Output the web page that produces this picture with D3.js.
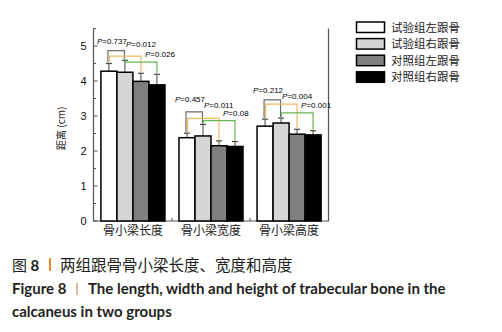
<!DOCTYPE html>
<html><head><meta charset="utf-8">
<script src="https://cdn.jsdelivr.net/npm/d3@7"></script>
<style>body{margin:0;background:#fff}svg{display:block}</style>
</head><body>
<script>
// ---- data ----
const categories = ["骨小梁长度", "骨小梁宽度", "骨小梁高度"];
const seriesNames = ["试验组左跟骨", "试验组右跟骨", "对照组左跟骨", "对照组右跟骨"];
const expLeft  = [4.28, 2.38, 2.71];
const expRight = [4.25, 2.43, 2.80];
const ctlLeft  = [3.99, 2.15, 2.48];
const ctlRight = [3.89, 2.13, 2.46];
const sdExpLeft  = [0.22, 0.13, 0.20];
const sdExpRight = [0.34, 0.33, 0.14];
const sdCtlLeft  = [0.23, 0.14, 0.14];
const sdCtlRight = [0.30, 0.14, 0.12];
const yTicks = [0, 1, 2, 3, 4, 5];
const pairs = [[0, 1], [0, 2], [1, 3]];
const pValues = [["0.737", "0.012", "0.026"], ["0.457", "0.011", "0.08"], ["0.212", "0.004", "0.001"]];
const bracketLevels = [[4.87, 4.71, 4.54], [3.12, 2.93, 2.87], [3.46, 3.34, 3.09]];
const labelLevels = [[5.06, 4.96, 4.70], [3.39, 3.23, 3.00], [3.66, 3.49, 3.23]];
const captionCN = ["图 ", "8", "两组跟骨骨小梁长度、宽度和高度"];
const captionEN = ["Figure 8", "The length, width and height of trabecular bone in the", "calcaneus in two groups"];

// ---- style ----
const fills = ["#ffffff", "#d6d6d6", "#7f7f7f", "#000000"];
const bracketColors = ["#6e6e6e", "#f2b866", "#6bb552"];
const values = [expLeft, expRight, ctlLeft, ctlRight];
const sds = [sdExpLeft, sdExpRight, sdCtlLeft, sdCtlRight];

const svg = d3.select("body").append("svg").attr("width", 502).attr("height", 332);
const numFont = "'Liberation Sans', Arial, sans-serif";
const cjkFont = "'Noto Sans CJK SC', sans-serif";

const x0 = d3.scaleBand().domain(categories).range([93.5, 328.5]).paddingInner(0.18).paddingOuter(0.095);
const x1 = d3.scaleBand().domain(d3.range(4)).range([0, x0.bandwidth()]);
const y = d3.scaleLinear().domain([0, 5.5]).range([221, 28.5]);
const axisColor = "#555";

// frame
const [xl, xr] = x0.range();
svg.append("path").attr("d", `M${xl},${y(5.5)}V${y(0)}H${xr}V${y(5.5)}`)
  .attr("fill", "none").attr("stroke", axisColor).attr("stroke-width", 1.2);

// y axis ticks
const yAxis = d3.axisLeft(y).tickValues(yTicks).tickSize(0).tickPadding(7).tickFormat(d3.format("d"));
const ga = svg.append("g").attr("transform", `translate(${xl},0)`).call(yAxis);
ga.select(".domain").remove();
ga.selectAll("text").attr("font-family", numFont).attr("font-size", 11).attr("fill", "#111");
// inward ticks
const minor = d3.range(0, 5.51, 0.5);
svg.append("g").selectAll("line").data(minor).join("line")
  .attr("x1", xl).attr("x2", d => xl + (Number.isInteger(d) ? 4 : 2.5))
  .attr("y1", d => y(d)).attr("y2", d => y(d))
  .attr("stroke", axisColor).attr("stroke-width", 1);
// bottom ticks between groups
svg.append("g").selectAll("line").data(categories.slice(1)).join("line")
  .attr("x1", d => x0(d) - x0.step() * x0.paddingInner() / 2)
  .attr("x2", d => x0(d) - x0.step() * x0.paddingInner() / 2)
  .attr("y1", y(0)).attr("y2", y(0) - 3)
  .attr("stroke", axisColor);

// y title
svg.append("text").attr("transform", `translate(65,${y(2.65)}) rotate(-90)`)
  .attr("text-anchor", "middle").attr("font-family", cjkFont).attr("font-size", 10).attr("fill", "#222")
  .text("距离 (cm)");

// bars
categories.forEach((c, gi) => {
  const g = svg.append("g").attr("transform", `translate(${x0(c)},0)`);
  g.selectAll("line.err").data(d3.range(4)).join("line").attr("class", "err")
    .attr("x1", i => x1(i) + x1.bandwidth() / 2).attr("x2", i => x1(i) + x1.bandwidth() / 2)
    .attr("y1", i => y(values[i][gi])).attr("y2", i => y(values[i][gi] + sds[i][gi]))
    .attr("stroke", "#444").attr("stroke-width", 1);
  g.selectAll("line.cap").data(d3.range(4)).join("line").attr("class", "cap")
    .attr("x1", i => x1(i) + x1.bandwidth() / 2 - 3).attr("x2", i => x1(i) + x1.bandwidth() / 2 + 3)
    .attr("y1", i => y(values[i][gi] + sds[i][gi])).attr("y2", i => y(values[i][gi] + sds[i][gi]))
    .attr("stroke", "#444").attr("stroke-width", 1.2);
  g.selectAll("rect").data(d3.range(4)).join("rect")
    .attr("x", i => x1(i)).attr("width", x1.bandwidth())
    .attr("y", i => y(values[i][gi])).attr("height", i => y(0) - y(values[i][gi]))
    .attr("fill", i => fills[i]).attr("stroke", "#000").attr("stroke-width", 1.5);
  // brackets
  pairs.forEach((p, k) => {
    const xa = x0(c) + x1(p[0]) + x1.bandwidth() / 2 + (k === 0 ? -1 : 0.5);
    const xb = x0(c) + x1(p[1]) + x1.bandwidth() / 2 + (k === 0 ? -0.5 : 0);
    const top = y(bracketLevels[gi][k]);
    const ea = y(values[p[0]][gi] + sds[p[0]][gi]) - 1;
    const eb = y(values[p[1]][gi] + sds[p[1]][gi]) - 1;
    svg.append("path").attr("d", `M${xa},${ea}V${top}H${xb}V${eb}`)
      .attr("fill", "none").attr("stroke", bracketColors[k]).attr("stroke-width", 1.2);
  });
  // p labels
  const gx = x0(c);
  const rightGrey = gx + x1(1) + x1.bandwidth() / 2;
  const lbl = [
    {x: rightGrey + 2, anchor: "end"},
    {x: rightGrey + 1, anchor: "start"},
    {x: gx + x1(2) + x1.bandwidth() / 2 + 4, anchor: "start"}
  ];
  lbl.forEach((L, k) => {
    const t = svg.append("text").attr("x", L.x).attr("y", y(labelLevels[gi][k]))
      .attr("text-anchor", L.anchor).attr("font-family", numFont).attr("font-size", 8).attr("fill", "#000");
    t.append("tspan").attr("font-style", "italic").text("P");
    t.append("tspan").text("=" + pValues[gi][k]);
  });
});

// category labels
svg.append("g").selectAll("text").data(categories).join("text")
  .attr("x", d => x0(d) + x0.bandwidth() / 2).attr("y", 234.5)
  .attr("text-anchor", "middle").attr("font-family", cjkFont).attr("font-size", 12).attr("fill", "#222")
  .text(d => d);

// legend
const lg = svg.append("g");
seriesNames.forEach((s, i) => {
  const yy = 22 + i * 16.6;
  lg.append("rect").attr("x", 356.5).attr("y", yy).attr("width", 28).attr("height", 10.5)
    .attr("fill", fills[i]).attr("stroke", "#000").attr("stroke-width", 1.5);
  lg.append("text").attr("x", 391).attr("y", yy + 9.5).attr("font-family", cjkFont)
    .attr("font-size", 11.5).attr("fill", "#222").text(s);
});

// caption
const c1 = svg.append("text").attr("x", 12).attr("y", 270.5).attr("font-family", cjkFont)
  .attr("font-size", 15).attr("fill", "#231f20");
c1.append("tspan").text(captionCN[0]);
c1.append("tspan").attr("font-family", "Lato, 'Open Sans', sans-serif").attr("font-weight", "bold").text(captionCN[1]);
svg.append("rect").attr("x", 49).attr("y", 258).attr("width", 2).attr("height", 13).attr("fill", "#e8892b");
svg.append("text").attr("x", 60).attr("y", 270.5).attr("font-family", cjkFont)
  .attr("font-size", 15.5).attr("fill", "#231f20").text(captionCN[2]);

const enFont = "Lato, 'Open Sans', sans-serif";
svg.append("text").attr("x", 12).attr("y", 294).attr("font-family", enFont).attr("font-weight", "bold")
  .attr("font-size", 15).attr("fill", "#231f20").text(captionEN[0]);
svg.append("rect").attr("x", 76.5).attr("y", 283).attr("width", 1).attr("height", 12).attr("fill", "#c8782e");
svg.append("text").attr("x", 88).attr("y", 294).attr("font-family", enFont).attr("font-weight", "bold")
  .attr("font-size", 15).attr("fill", "#231f20").text(captionEN[1]);
svg.append("text").attr("x", 12).attr("y", 317).attr("font-family", enFont).attr("font-weight", "bold")
  .attr("font-size", 15).attr("fill", "#231f20").text(captionEN[2]);
</script>
</body></html>
